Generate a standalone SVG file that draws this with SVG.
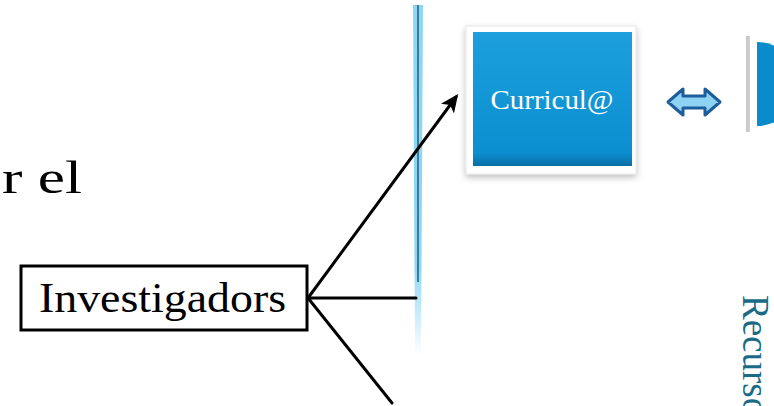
<svg xmlns="http://www.w3.org/2000/svg" width="774" height="406" viewBox="0 0 774 406">
<defs>
<style>
.serif{font-family:"Liberation Serif","DejaVu Serif",serif;}
.conn{stroke:#000;stroke-width:3;fill:none;stroke-linecap:round;}
</style>
<linearGradient id="blueFill" x1="0" y1="0" x2="0" y2="1">
<stop offset="0" stop-color="#1c9fdc"/>
<stop offset="0.9" stop-color="#0b8fd0"/>
<stop offset="1" stop-color="#0a6ea6"/>
</linearGradient>
<linearGradient id="glow" x1="0" y1="0" x2="0" y2="1">
<stop offset="0" stop-color="#8fd6f5"/>
<stop offset="0.75" stop-color="#8fd6f5"/>
<stop offset="1" stop-color="#8fd6f5" stop-opacity="0"/>
</linearGradient>
<linearGradient id="edge" x1="0" y1="0" x2="1" y2="0">
<stop offset="0" stop-color="#c8c8c8"/>
<stop offset="1" stop-color="#ffffff"/>
</linearGradient>
<filter id="shadow" x="-20%" y="-20%" width="140%" height="140%">
<feDropShadow dx="0" dy="3" stdDeviation="3" flood-color="#000" flood-opacity="0.25"/>
</filter>
<marker id="arrow" viewBox="0 0 10 10" refX="8" refY="5" markerWidth="6" markerHeight="6" markerUnits="strokeWidth" orient="auto">
<path d="M0,0.5 L10,5 L0,9.5 L2.5,5 Z" fill="#000"/>
</marker>
</defs>

<g id="partial-title">
<text class="serif" x="2" y="193" font-size="46" textLength="80" lengthAdjust="spacingAndGlyphs" fill="#000">r el</text>
</g>

<g id="divider">
<path d="M413,5 L423,5 L421,355 L415,355 Z" fill="url(#glow)"/>
<line x1="418" y1="5" x2="418" y2="282" stroke="#1f5f78" stroke-width="1.5"/>
</g>

<g id="connectors">
<line class="conn" x1="308" y1="298" x2="456" y2="97" marker-end="url(#arrow)"/>
<line class="conn" x1="308" y1="298" x2="416" y2="298"/>
<line class="conn" x1="308" y1="298" x2="392" y2="403"/>
</g>

<g id="investigadors">
<rect x="21" y="266" width="286" height="64" fill="#fff" stroke="#000" stroke-width="3"/>
<text class="serif" x="39" y="312" font-size="43" textLength="247" lengthAdjust="spacingAndGlyphs" fill="#000">Investigadors</text>
</g>

<g id="curricula">
<rect x="466" y="26" width="170" height="148" fill="#fff" stroke="#e6e6e6" stroke-width="1" filter="url(#shadow)"/>
<rect x="473" y="32" width="159" height="134" fill="url(#blueFill)"/>
<text class="serif" x="552" y="109" font-size="27" text-anchor="middle" textLength="123" lengthAdjust="spacingAndGlyphs" fill="#fff">Curricul@</text>
</g>

<g id="double-arrow">
<path d="M668,102 L683,89 L683,96 L705,96 L705,89 L720,102 L705,115 L705,108 L683,108 L683,115 Z" fill="#8fd3f4" stroke="#1d5d9b" stroke-width="3" stroke-linejoin="round"/>
</g>

<g id="next-node">
<rect x="746" y="36" width="30" height="96" fill="url(#edge)"/>
<rect x="750" y="36" width="26" height="96" fill="#fff"/>
<path d="M757,42 A 42 42 0 0 1 757,126 Z" fill="#0a8ccc"/>
</g>

<g id="recursos">
<text class="serif" transform="translate(743,295) rotate(90)" font-size="37" fill="#1b6b87">Recursos</text>
</g>
</svg>
